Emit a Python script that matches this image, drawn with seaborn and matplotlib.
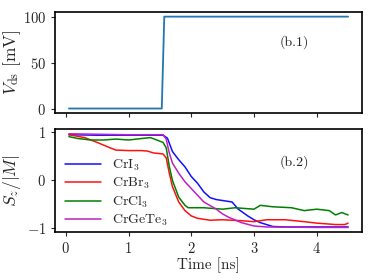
import pandas as pd
import matplotlib.pyplot as plt
import seaborn as sns

# top panel: applied bias step
vds_t = [0.05, 1.53, 1.57, 4.5]
vds_v = [0, 0, 100, 100]

# bottom panel: magnetisation traces
cri3_t = [0.05, 0.5, 1.0, 1.55, 1.62, 1.7, 1.8, 1.9, 2.0, 2.1, 2.2, 2.3, 2.4, 2.5, 2.65, 2.75, 2.9, 3.0, 3.1, 3.3, 3.5, 4.0, 4.5]
cri3_s = [0.95, 0.94, 0.94, 0.94, 0.88, 0.6, 0.43, 0.28, 0.08, -0.06, -0.24, -0.36, -0.4, -0.42, -0.45, -0.6, -0.74, -0.82, -0.88, -0.96, -0.97, -0.97, -0.97]

crbr3_t = [0.05, 0.3, 0.5, 0.7, 0.8, 1.0, 1.2, 1.3, 1.4, 1.55, 1.6, 1.65, 1.7, 1.8, 1.9, 2.0, 2.1, 2.3, 2.5, 2.8, 3.0, 3.2, 3.5, 3.8, 4.0, 4.3, 4.45, 4.5]
crbr3_s = [0.95, 0.89, 0.79, 0.68, 0.63, 0.62, 0.62, 0.61, 0.57, 0.55, 0.47, 0.15, -0.13, -0.45, -0.63, -0.74, -0.79, -0.83, -0.82, -0.84, -0.86, -0.82, -0.82, -0.86, -0.89, -0.92, -0.92, -0.89]

crcl3_t = [0.05, 0.2, 0.4, 0.6, 0.8, 1.0, 1.2, 1.35, 1.45, 1.55, 1.6, 1.65, 1.7, 1.8, 1.9, 1.95, 2.0, 2.2, 2.5, 2.7, 3.0, 3.1, 3.3, 3.6, 3.8, 4.0, 4.2, 4.3, 4.4, 4.5]
crcl3_s = [0.91, 0.87, 0.84, 0.84, 0.86, 0.84, 0.87, 0.89, 0.84, 0.79, 0.68, 0.29, 0.0, -0.35, -0.52, -0.57, -0.57, -0.57, -0.6, -0.57, -0.6, -0.52, -0.55, -0.57, -0.63, -0.6, -0.63, -0.72, -0.67, -0.72]

crgete3_t = [0.05, 0.5, 1.0, 1.55, 1.6, 1.65, 1.7, 1.8, 1.9, 2.0, 2.1, 2.2, 2.4, 2.5, 2.6, 2.8, 3.0, 3.2, 4.0, 4.5]
crgete3_s = [0.97, 0.96, 0.95, 0.95, 0.86, 0.57, 0.36, 0.15, -0.03, -0.17, -0.31, -0.45, -0.6, -0.7, -0.77, -0.88, -0.95, -0.97, -0.98, -0.98]

labels = ['CrI$_3$', 'CrBr$_3$', 'CrCl$_3$', 'CrGeTe$_3$']
colors = ['#1010ff', '#ff1010', 'green', '#c020c0']

sns.set_style('ticks')
plt.rcParams['font.family'] = 'serif'
plt.rcParams['font.serif'] = ['cmr10', 'DejaVu Serif']
plt.rcParams['mathtext.fontset'] = 'cm'
plt.rcParams['axes.formatter.use_mathtext'] = True
plt.rcParams['axes.edgecolor'] = 'black'
plt.rcParams['axes.linewidth'] = 1.2

df_top = pd.DataFrame({'t': vds_t, 'v': vds_v})
frames = []
for lab, t, s in zip(labels, [cri3_t, crbr3_t, crcl3_t, crgete3_t],
                     [cri3_s, crbr3_s, crcl3_s, crgete3_s]):
    frames.append(pd.DataFrame({'t': t, 's': s, 'mat': lab}))
df_bot = pd.concat(frames, ignore_index=True)

fig = plt.figure(figsize=(3.74, 2.8), dpi=100)
ax1 = fig.add_axes([0.147, 0.596, 0.821, 0.361])
ax2 = fig.add_axes([0.147, 0.171, 0.821, 0.368], sharex=ax1)

sns.lineplot(data=df_top, x='t', y='v', ax=ax1, color='#1f77b4', linewidth=1.3)
ax1.set_ylabel(r'$V_{\rm ds}$ [mV]', fontsize=12.5)
ax1.yaxis.set_label_coords(-0.104, 0.5)
ax1.set_xlabel('')
ax1.set_yticks([0, 50, 100])
ax1.tick_params(labelbottom=False, labelsize=10.5, length=3)
ax1.text(0.78, 0.70, '(b.1)', transform=ax1.transAxes, ha='center', va='center', fontsize=10)

sns.lineplot(data=df_bot, x='t', y='s', hue='mat', palette=dict(zip(labels, colors)),
             ax=ax2, linewidth=1.1, sort=False, estimator=None)
ax2.set_ylabel(r'$S_z/|M|$', fontsize=12.5)
ax2.yaxis.set_label_coords(-0.104, 0.5)
ax2.set_xlabel('Time [ns]', fontsize=11, labelpad=1)
ax2.set_yticks([-1, 0, 1])
ax2.set_xticks([0, 1, 2, 3, 4])
ax2.tick_params(labelsize=10.5, length=3)
ax2.text(0.78, 0.68, '(b.2)', transform=ax2.transAxes, ha='center', va='center', fontsize=10)
ax2.legend(loc='center left', bbox_to_anchor=(0.0, 0.38), frameon=False, fontsize=10,
           handlelength=2.6, labelspacing=0.2, handletextpad=0.8, borderaxespad=0.3)

fig.savefig('out.png', dpi=100)
